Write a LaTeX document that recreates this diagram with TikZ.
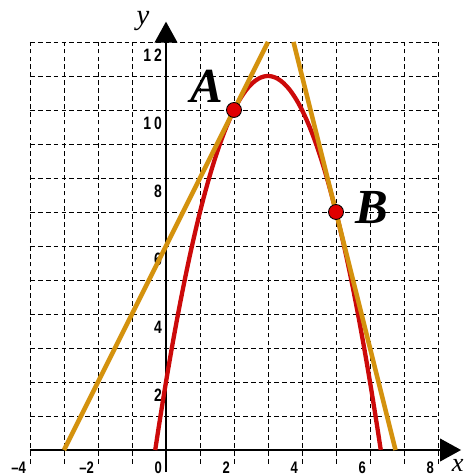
\documentclass[tikz,border=0pt]{standalone}
\usepackage{fontspec}
\setmainfont{Liberation Serif}
\newfontfamily\axisfont[FakeStretch=0.78]{Liberation Sans}
\usepackage{tikz}
\usetikzlibrary{arrows.meta,positioning}
\definecolor{curvered}{HTML}{CC0A0A}
\definecolor{dotred}{HTML}{E00000}
\definecolor{tangentgold}{HTML}{D4920E}

\begin{document}
\begin{tikzpicture}[x=1cm,y=1cm,
  gridline/.style={black,line width=0.7pt,dash pattern=on 4pt off 2.6pt},
  axisline/.style={black,line width=2.2pt,-{Triangle[length=0.62cm,width=0.66cm]}},
  parab/.style={curvered,line width=3.6pt},
  tangent/.style={tangentgold,line width=3.8pt},
  dot/.style={circle,draw=black,line width=0.7pt,fill=dotred,minimum size=0.44cm,inner sep=0pt},
  ticklabel/.style={font=\axisfont\bfseries\fontsize{14}{16}\selectfont,inner sep=1pt},
  yticklabel/.style={ticklabel,font=\axisfont\bfseries\fontsize{15}{17}\selectfont},
  ptlabel/.style={font=\bfseries\itshape\fontsize{41}{44}\selectfont,inner sep=0pt}]
\useasboundingbox (-4.882,-0.735) rectangle (8.824,13.235);

% grid
\foreach \gx in {-4,...,8}
  \draw[gridline] (\gx,-0.4) -- (\gx,12);
\foreach \gy in {1,...,12}
  \draw[gridline] (-4,\gy) -- (8,\gy);

% axes
\draw[axisline] (-4,0) -- (8.68,0);
\draw[axisline] (0,-0.65) -- (0,12.6);
\node[font=\itshape\fontsize{24}{26}\selectfont] (ylab) at (-0.68,12.62) {y};
\node[font=\itshape\fontsize{22}{24}\selectfont,inner sep=0.5pt] (xlab) at (8.58,-0.44) {x};

% tick labels
\foreach \tx/\tt in {-4/\textendash4,-2/\textendash2,0/0,2/2,4/4,6/6,8/8}
  \node[ticklabel,anchor=north east] (xt\tx) at (\tx-0.08,-0.3) {\tt};
\foreach \ty/\tt in {2/2,4/4,6/6,8/8,10/1\,0,12/1\,2}
  \node[yticklabel,anchor=north east] (yt\ty) at (-0.08,\ty-0.16) {\tt};

% parabola y = -x^2 + 6x + 2 and its tangents
\draw[parab] plot[domain=-0.3166:6.3166,samples=80,smooth] (\x,{-(\x)^2+6*\x+2});
\coordinate (tA0) at (-3,0);
\coordinate (tA1) at (3,12);
\coordinate (tB0) at (3.75,12);
\coordinate (tB1) at (6.75,0);
\draw[tangent] (tA0) -- (tA1);
\draw[tangent] (tB0) -- (tB1);

% points
\node[dot] (ptA) at (2,10) {};
\node[dot] (ptB) at (5,7) {};
\node[ptlabel] (labA) at (1.21,10.69) {A};
\node[ptlabel] (labB) at (6.06,7.12) {B};
\end{tikzpicture}
\end{document}
